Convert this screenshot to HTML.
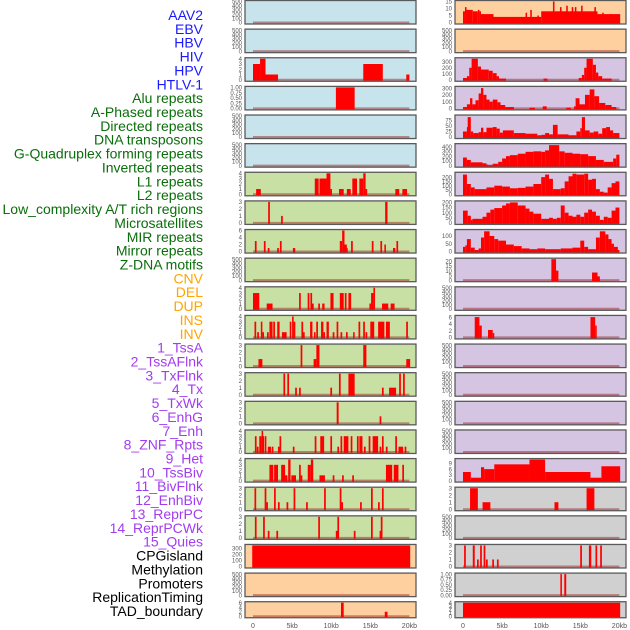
<!DOCTYPE html>
<html><head><meta charset="utf-8"><style>
html,body{margin:0;padding:0;background:#fff;}
svg{display:block;font-family:"Liberation Sans",sans-serif;}
</style></head><body>
<svg id="chart" width="630" height="630" viewBox="0 0 630 630" xmlns="http://www.w3.org/2000/svg"></svg>
<script>
const labels=["AAV2","EBV","HBV","HIV","HPV","HTLV-1","Alu repeats","A-Phased repeats","Directed repeats","DNA transposons","G-Quadruplex forming repeats","Inverted repeats","L1 repeats","L2 repeats","Low_complexity A/T rich regions","Microsatellites","MIR repeats","Mirror repeats","Z-DNA motifs","CNV","DEL","DUP","INS","INV","1_TssA","2_TssAFlnk","3_TxFlnk","4_Tx","5_TxWk","6_EnhG","7_Enh","8_ZNF_Rpts","9_Het","10_TssBiv","11_BivFlnk","12_EnhBiv","13_ReprPC","14_ReprPCWk","15_Quies","CPGisland","Methylation","Promoters","ReplicationTiming","TAD_boundary"];
const labelGroups=[0,0,0,0,0,0,1,1,1,1,1,1,1,1,1,1,1,1,1,2,2,2,2,2,3,3,3,3,3,3,3,3,3,3,3,3,3,3,3,4,4,4,4,4];
const groupColors=["#1a1aff","#0a6e0a","#ffa500","#a23cf0","#000000"];
const panelBg=["#c7e3eb","#c8e0a4","#ffd09f","#d5c4e2","#d0d0d0"];
const panelGroups=[0,0,0,0,0,0,1,1,1,1,1,1,1,1,1,1,1,1,1,2,2,2,2,2,3,3,3,3,3,3,3,3,3,3,3,3,3,3,3,4,4,4,4,4];
const EMPTY=[0,100,200,300,400,500];
const panelTicks=[EMPTY,EMPTY,[0,1,2,3,4],[0,0.25,0.5,0.75,1],EMPTY,EMPTY,
[0,1,2,3,4],[0,1,2,3],[0,2,4,6],EMPTY,[0,1,2,3,4],[0,1,2,3,4],[0,1,2,3],[0,1,2,3],[0,1,2,3],[0,1,2,3,4],[0,1,2,3,4],[0,1,2,3],[0,1,2,3],
[0,100,200,300],EMPTY,[0,2,4,6],
[0,5,10,15],EMPTY,[0,100,200,300],[0,100,200,300],[0,25,50,75],[0,100,200,300,400],[0,50,100,150,200],[0,50,100,150,200],[0,50,100],[0,5,10,15,20],EMPTY,[0,2,4,6],EMPTY,EMPTY,EMPTY,EMPTY,[0,3,6,9],
[0,1,2,3],EMPTY,[0,1,2,3],[0,0.25,0.5,0.75,1],[0,1,2,3,4]];
const panelYmax=[500,500,4,1,500,500,4,3,6,500,4,4,3,3,3,4,4,3,3,350,500,6,15,500,350,310,95,440,245,205,135,22,500,6.2,500,500,500,500,11,3,500,3,1,4];
const panelSegments=[
[],[],
[[0,0.9,3],[0.9,1.6,4],[1.6,3.2,1],[14.1,16.6,3],[19.6,20,1]],
[[10.6,13.0,1]],
[],[],
[[0.4,1.0,1],[7.9,8.4,3],[8.5,9.4,3],[9.4,9.9,4],[9.9,10.1,1],[11.0,11.6,1],[12.0,12.5,1],[12.7,13.3,3],[13.6,14.1,3],[14.1,14.4,4],[14.4,14.6,1],[18.2,18.7,1],[19.1,19.7,1]],
[[2.05,3],[3.7,1],[16.9,17.2,3]],
[[0.35,3],[1.5,3],[2.0,1],[3.2,1],[3.55,3],[5.1,5.4,1],[11.1,11.4,3],[11.4,11.7,6],[11.7,12.0,2],[12.0,1],[12.65,3],[15.3,3],[16.4,3],[16.8,17.0,2],[17.9,18.2,1],[18.45,3]],
[],
[[0,0.8,3],[1.75,2.5,1],[6.0,3],[7.1,3],[7.45,3],[7.65,1],[8.45,1],[8.85,9.15,1],[9.9,10.3,3],[11.1,11.6,3],[11.85,3],[12.2,12.55,3],[15.0,1],[15.1,15.4,3],[15.4,15.6,4],[16.5,17.3,1],[17.6,18.1,1]],
[[0.3,3],[0.65,1],[1.0,1.2,3],[1.3,1],[1.9,1],[2.1,2.5,3],[2.7,3],[3.1,3.4,3],[3.7,4.3,1],[4.7,4.9,3],[5.0,5.2,4],[5.3,3],[6.3,3],[6.5,1],[7.3,7.6,3],[7.8,8.0,1],[8.2,3],[8.7,9.0,3],[9.1,1],[9.4,9.7,3],[10.3,1],[10.8,3],[11.3,1],[12.0,1],[12.8,13.0,1],[13.6,3],[14.2,3],[14.5,1],[15.0,15.5,3],[16.0,16.8,3],[17.0,17.5,3],[19.7,3]],
[[0.7,1.2,1],[6.2,3],[7.75,8.1,1],[8.1,8.5,3],[14.1,14.5,3],[19.6,20.1,1]],
[[4.0,3],[4.5,3],[5.5,1],[6.0,1],[10.0,1],[11.1,3],[12.2,13.0,3],[16.6,1],[17.4,18.3,1],[18.8,3],[19.3,3]],
[[10.7,10.95,3],[16.3,1]],
[[0.35,3],[0.6,1],[0.8,1.1,3],[1.1,1.3,4],[1.3,3],[1.6,3],[1.9,2.3,1],[2.5,1],[3.3,1],[3.5,3],[5.2,1],[8.0,3],[8.6,9.1,3],[10.0,3],[10.9,1],[11.3,3],[11.6,12.2,3],[12.6,3],[13.4,3],[13.6,14.0,3],[14.3,1],[14.9,3],[15.3,16.0,3],[16.3,1],[16.6,3],[17.1,1],[18.3,3],[18.6,19.2,1],[19.5,1]],
[[2.1,2.6,3],[2.7,3.2,3],[3.6,4.1,3],[4.1,4.4,1],[4.5,4.8,4],[4.9,5.5,1],[6.0,3],[6.2,1],[7.0,7.4,3],[7.4,7.7,4],[8.5,9.2,1],[10.3,1],[11.5,1],[12.8,1],[17.0,17.8,3],[18.0,18.6,3],[19.2,3]],
[[0.3,3],[1.6,3],[1.8,1],[2.8,3],[3.3,1],[4.4,1],[5.3,3],[6.9,1],[9.2,3],[11.2,3],[11.4,1],[13.8,1],[15.2,3],[16.1,1],[16.6,3]],
[[0.35,3],[1.4,3],[2.0,1],[3.1,1],[8.45,3],[10.7,1],[10.9,3],[13.0,1],[15.2,3],[16.3,1],[16.45,3]],
[[-0.1,20.1,350]],
[],
[[11.25,11.6,6],[16.85,17.2,2]],
[[0,0.25,8],[0.25,0.45,11],[0.45,1.25,9],[1.25,1.9,8],[1.9,2.1,9],[2.1,2.3,8],[2.3,3.9,6],[3.9,10,4],[8.0,8.2,7],[8.6,8.8,9],[9.5,9.7,5],[10,17.2,8],[11.5,11.7,15],[12.4,12.6,11],[13.2,13.4,12],[13.9,14.1,11],[14.3,14.5,11],[15.1,15.3,12],[16.8,17.0,11],[17.2,20.1,6],[17.8,18.0,7],[18.8,19.0,6]],
[],
[[0,0.5,30],[0.5,0.8,60],[0.8,1.1,200],[1.1,1.9,350],[1.9,2.3,220],[2.3,3.3,170],[3.3,3.8,150],[3.8,4.3,110],[4.3,4.6,60],[4.6,5.5,20],[10.3,10.8,20],[14.8,15.2,30],[15.2,15.5,80],[15.5,15.8,200],[15.8,16.6,350],[16.6,17,250],[17,17.3,120],[17.3,17.8,60],[17.8,19,20]],
[[0,0.5,20],[0.5,0.9,60],[0.9,1.2,150],[1.2,1.6,60],[1.6,2.0,120],[2.0,2.3,220],[2.3,2.6,300],[2.6,3.0,200],[3.0,3.4,130],[3.4,3.8,100],[3.8,4.4,130],[4.4,4.8,90],[4.8,5.4,50],[5.4,6.5,20],[8.5,9.2,10],[10.2,10.7,30],[13.2,13.8,10],[14.2,14.4,30],[14.4,14.9,150],[14.9,15.6,60],[15.6,16.2,200],[16.2,16.8,280],[16.8,17.4,180],[17.4,18.2,80],[18.2,19,50],[19,19.6,20]],
[[0,0.5,25],[0.5,0.6,45],[0.6,1.0,90],[1.0,1.3,25],[1.3,2.0,18],[2.0,2.3,22],[2.3,2.6,42],[2.6,3.0,22],[3.0,3.8,42],[3.8,4.3,45],[4.3,4.7,38],[4.7,5.1,20],[5.1,6.5,30],[6.5,8,18],[8,9.5,15],[9.5,10,8],[10,10.5,10],[10.5,11,18],[11,11.5,12],[11.5,12.1,55],[12.1,13.5,12],[13.5,14.5,8],[14.5,15,25],[15,15.2,40],[15.2,15.6,90],[15.6,16.2,30],[16.2,16.7,20],[16.7,17.3,25],[17.3,17.8,15],[17.8,18.3,40],[18.3,18.8,45],[18.8,19.2,30],[19.2,20,18]],
[[0,0.5,170],[0.5,1,120],[1,2.5,70],[2.5,3,50],[3,3.2,20],[3.2,3.8,10],[3.8,4.5,40],[4.5,5,80],[5,5.5,150],[5.5,6,200],[6,7,220],[7,8,250],[8,9,290],[9,10,300],[10,10.5,290],[10.5,11,320],[11,12.3,430],[12.3,13,300],[13,14,270],[14,15,250],[15,16,240],[16,17,200],[17,18,120],[18,19.2,80],[19.2,19.6,150],[19.6,20,230]],
[[0,0.5,230],[0.5,1,120],[1,1.5,80],[1.5,3,60],[3,4,80],[4,5,100],[5,6,90],[6,7,70],[7,8,75],[8,9,90],[9,10,120],[10,10.5,200],[10.5,11,230],[11,11.5,180],[11.5,12.5,60],[12.5,13,70],[13,13.5,150],[13.5,14,210],[14,14.5,240],[14.5,15.5,230],[15.5,16,240],[16,16.5,170],[16.5,17,180],[17,17.5,60],[17.5,18,30],[18,18.5,20],[18.5,19,80],[19,19.5,130],[19.5,20,150]],
[[0,0.6,120],[0.6,1,70],[1,1.2,30],[1.2,2.5,40],[2.5,3,60],[3,3.5,100],[3.5,4,130],[4,5,145],[5,5.5,170],[5.5,6,190],[6,7,200],[7,8,170],[8,8.5,140],[8.5,9,110],[9,10,90],[10,11,40],[11,11.5,50],[11.5,12,40],[12,12.5,50],[12.5,13,170],[13,13.5,100],[13.5,14,70],[14,14.5,60],[14.5,15,80],[15,15.5,60],[15.5,16,100],[16,16.5,130],[16.5,17,110],[17,17.5,70],[17.5,18,30],[18,18.5,60],[18.5,19,50],[19,19.5,120],[19.5,20,150]],
[[0,0.3,30],[0.3,0.5,40],[0.5,1,80],[1,1.5,25],[1.5,2,10],[2,2.3,20],[2.3,2.7,90],[2.7,3.4,130],[3.4,4,100],[4,4.5,80],[4.5,5.5,70],[5.5,6.5,45],[6.5,7.5,35],[7.5,8.5,20],[8.5,9.5,15],[9.5,10.5,20],[10.5,12.5,15],[12.5,14,20],[14,15,25],[15,15.5,70],[15.5,16,30],[16,17,15],[17,17.5,90],[17.5,18.2,130],[18.2,18.6,110],[18.6,19,80],[19,19.3,50],[19.3,19.8,30],[19.8,20,10]],
[[11.3,11.9,22],[11.9,12.2,10],[16.5,17.2,8],[17.2,17.5,4]],
[],
[[1.5,2.1,6],[2.1,2.4,3.5],[3.2,3.8,2.2],[3.8,4.0,1.3],[16.3,16.9,6],[16.9,17.1,3.5]],
[],[],[],[],
[[0,1,4.5],[1,2.3,1.5],[2.3,2.7,7],[2.7,4,6],[4,8.5,8.5],[8.5,10.5,11],[10.5,16.3,4.5],[16.3,17.7,1.5],[17.7,20.1,7.5]],
[[0.9,1.9,3],[2.5,3.5,1],[11.7,12.2,1],[15.8,16.8,3]],
[],
[[0.25,3],[1.25,1.5,3],[1.9,1],[2.3,3],[2.75,3],[3.05,1],[3.85,1],[4.45,1],[15.1,3],[16.1,16.4,3],[17.05,3],[17.65,3]],
[[12.45,12.65,1],[12.95,13.2,1]],
[[0,20.1,4]]
];
const xTickVals=[0,5,10,15,20];
const xTickLabels=["0","5kb","10kb","15kb","20kb"];

const NS="http://www.w3.org/2000/svg";
const svg=document.getElementById("chart");
function mk(tag,attrs,parent){const e=document.createElementNS(NS,tag);for(const k in attrs)e.setAttribute(k,attrs[k]);(parent||svg).appendChild(e);return e;}
const PITCH=28.63;
const colLeft=[245,455];
const PW=171;
function xScale(col,kb){return colLeft[col]+8+kb*7.82;}
function panelTop(row){return row*PITCH+0.5;}
function panelH(row){return row===21?16:23.5;}
function yScale(row,ymax,v){const top=panelTop(row);const zero=top+panelH(row)-1.5;const hi=top+1;return zero-(v/ymax)*(zero-hi);}

labels.forEach((t,i)=>{
  const el=mk("text",{x:203,y:15+i*13.86+5,"text-anchor":"end","font-size":"14",fill:groupColors[labelGroups[i]]});
  
  
  el.textContent=t;
});

for(let p=0;p<44;p++){
  const col=p<22?0:1,row=p%22;
  const g=mk("g",{});
  
  
  const top=panelTop(row);
  const PH=panelH(row);
  const ymax=panelYmax[p];
  mk("rect",{x:colLeft[col],y:top,width:PW,height:PH,fill:panelBg[panelGroups[p]],stroke:"none"},g);
  const zy=yScale(row,ymax,0);
  mk("line",{x1:xScale(col,0),x2:xScale(col,20),y1:zy,y2:zy,stroke:"rgba(150,20,20,0.45)","stroke-width":2},g);
  panelSegments[p].forEach(s=>{
    let a,b,v;
    if(s.length===2){a=s[0]-0.11;b=s[0]+0.11;v=s[1];}else{a=s[0];b=s[1];v=s[2];}
    const x1=xScale(col,a),x2=xScale(col,b);
    const y=Math.max(top+0.5,yScale(row,ymax,v));
    const r=mk("rect",{x:x1,y:y,width:Math.max(1.2,x2-x1),height:zy+1-y,fill:"#ff0000"},g);
    
    
  });
  mk("rect",{x:colLeft[col],y:top,width:PW,height:PH,fill:"none",stroke:"#5a5a5a","stroke-width":1.3},g);
  panelTicks[p].forEach(tv=>{
    const ty=yScale(row,ymax,tv);
    const lbl=(panelTicks[p][panelTicks[p].length-1]===1)?tv.toFixed(2):String(tv);
    const t=mk("text",{x:colLeft[col]-3,y:ty+2.2,"text-anchor":"end","font-size":"6",fill:"#555"},g);
    
    
    t.textContent=lbl;
  });
}
[0,1].forEach(col=>{
  xTickVals.forEach((v,i)=>{
    const t=mk("text",{x:xScale(col,v),y:628,"text-anchor":"middle","font-size":"7",fill:"#555"});
    
    
    t.textContent=xTickLabels[i];
  });
});
</script>
</body></html>
